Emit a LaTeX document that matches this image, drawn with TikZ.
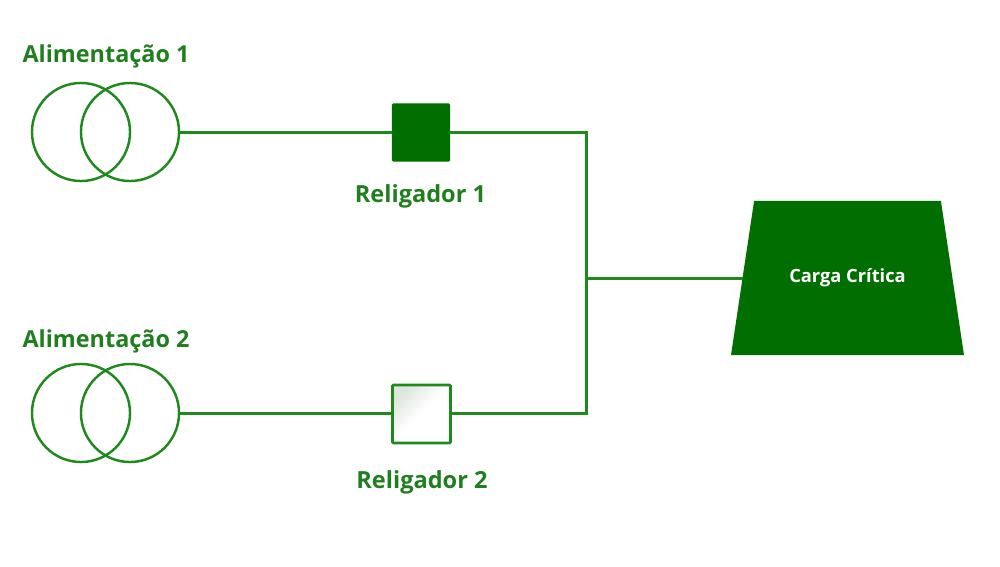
\documentclass[tikz,border=0pt]{standalone}
\usepackage{xcolor}
\usepackage{fontspec}
\setmainfont{Open Sans}
\usetikzlibrary{shapes.geometric}
\definecolor{schemeline}{HTML}{1E8A1E}
\definecolor{schemefill}{HTML}{006E00}
\definecolor{schemetext}{HTML}{1F7F1F}
\definecolor{schemeshade}{HTML}{DDE6DD}
\newcommand{\panelframe}{(0,0) rectangle (1000,566)}

\begin{document}
\begin{tikzpicture}[x=0.01cm, y=-0.01cm,
    every node/.style={outer sep=0pt, inner sep=0pt},
    wire/.style={schemeline, line width=0.85pt},
    coilring/.style={circle, draw=schemeline, line width=0.7pt, minimum size=0.98cm},
    recloser/.style={rectangle, line width=0.8pt, rounded corners=0.3pt, minimum size=0.58cm},
    sourcelabel/.style={schemetext, font=\fontsize{6.65}{8}\selectfont\bfseries},
    reclabel/.style={schemetext, font=\fontsize{6.7}{8}\selectfont\bfseries},
    loadshape/.style={trapezium, trapezium stretches=true, trapezium angle=52, fill=schemefill, text=white, font=\fontsize{5.2}{6}\selectfont\bfseries, minimum width=2.33cm, minimum height=1.54cm}]

  \useasboundingbox \panelframe;

  %% Source 1 with its recloser
  \node[coilring] (coilAa) at (81,132) {};
  \node[coilring] (coilAb) at (130,132) {};
  \node[sourcelabel] (labelA) at (106,56) {Alimentação 1};
  \node[recloser, fill=schemefill] (reclA) at (421,132.5) {};
  \node[reclabel] (labelRa) at (420.5,196.5) {Religador 1};

  %% Source 2 with its recloser
  \node[coilring] (coilBa) at (81,413) {};
  \node[coilring] (coilBb) at (130,413) {};
  \node[sourcelabel] (labelB) at (106,341) {Alimentação 2};
  \node[recloser, draw=schemeline, top color=schemeshade, bottom color=white, middle color=white, shading angle=45] (reclB) at (421.5,414) {};
  \node[reclabel] (labelRb) at (422,482.5) {Religador 2};

  %% Critical load
  \node[loadshape] (load) at (847.5,278) {Carga Crítica};

  %% Bus
  \coordinate (busA) at (586,132);
  \coordinate (busM) at (586,278);
  \coordinate (busB) at (586,413);
  \draw[wire] (coilAb.east) -- (coilAb.east -| reclA.west);
  \draw[wire] (coilBb.east) -- (coilBb.east -| reclB.west);
  \draw[wire] (reclA.east |- busA) -- (busA) -- (busB) -- (reclB.east |- busB);
  \draw[wire] (busM) -- (busM -| load.west);

\end{tikzpicture}
\end{document}
